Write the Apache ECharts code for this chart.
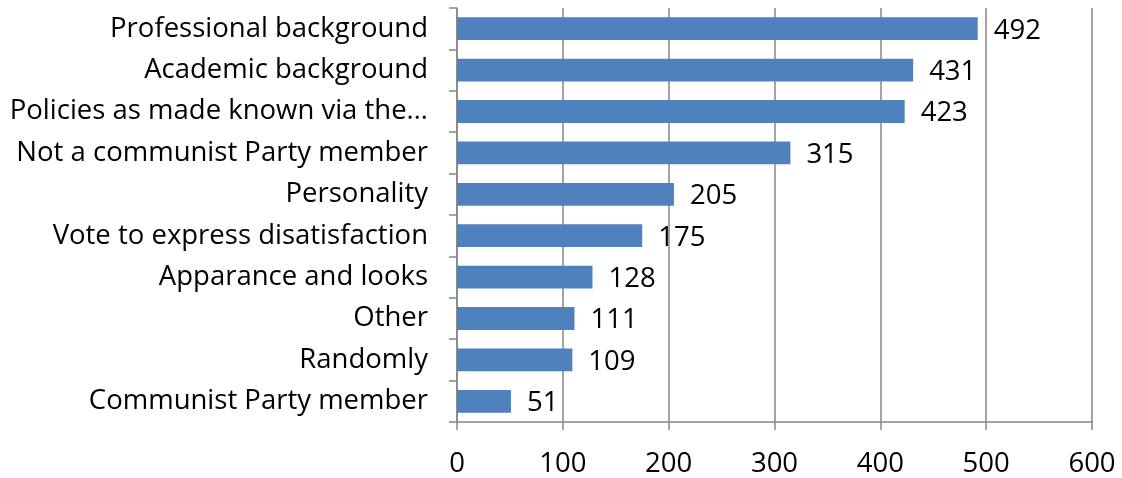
<!DOCTYPE html>
<html>
<head>
<meta charset="utf-8">
<script src="https://cdn.jsdelivr.net/npm/echarts@6/dist/echarts.min.js"></script>
<style>
  html, body { margin: 0; padding: 0; background: #fff; }
  #chart { width: 1122px; height: 478px; }
</style>
</head>
<body>
<div id="chart"></div>
<script>
// Reasons given for choosing a candidate (listed bottom to top on the axis)
const categories = [
  'Communist Party member',
  'Randomly',
  'Other',
  'Apparance and looks',
  'Vote to express disatisfaction',
  'Personality',
  'Not a communist Party member',
  'Policies as made known via the\u2026',
  'Academic background',
  'Professional background'
];
const counts = [51, 109, 111, 128, 175, 205, 315, 423, 431, 492];
const xTicks = [0, 100, 200, 300, 400, 500, 600];

const FONT = 'Open Sans';
const SIZE = 27.5;
const chart = echarts.init(document.getElementById('chart'));
chart.setOption({
  animation: false,
  grid: { left: 457, right: 30, top: 8, bottom: 52, containLabel: false },
  xAxis: {
    type: 'value',
    min: xTicks[0],
    max: xTicks[xTicks.length - 1],
    interval: 100,
    axisLine: { show: true, lineStyle: { color: '#868686', width: 1.5 } },
    axisTick: { show: true, length: 8, lineStyle: { color: '#868686', width: 1.5 } },
    splitLine: { show: true, lineStyle: { color: '#868686', width: 1.5 } },
    axisLabel: { color: '#000', fontFamily: FONT, fontSize: SIZE, margin: 28 }
  },
  yAxis: {
    type: 'category',
    data: categories,
    axisLine: { show: true, lineStyle: { color: '#868686', width: 1.5 } },
    axisTick: { show: true, length: 8, lineStyle: { color: '#868686', width: 1.5 } },
    axisLabel: { color: '#000', fontFamily: FONT, fontSize: SIZE, margin: 29 }
  },
  series: [{
    type: 'bar',
    data: counts,
    barCategoryGap: '45%',
    itemStyle: { color: '#4F81BD' },
    label: {
      show: true,
      position: 'right',
      distance: 16,
      offset: [0, 2],
      color: '#000',
      fontFamily: FONT,
      fontSize: SIZE
    }
  }]
});
</script>
</body>
</html>
